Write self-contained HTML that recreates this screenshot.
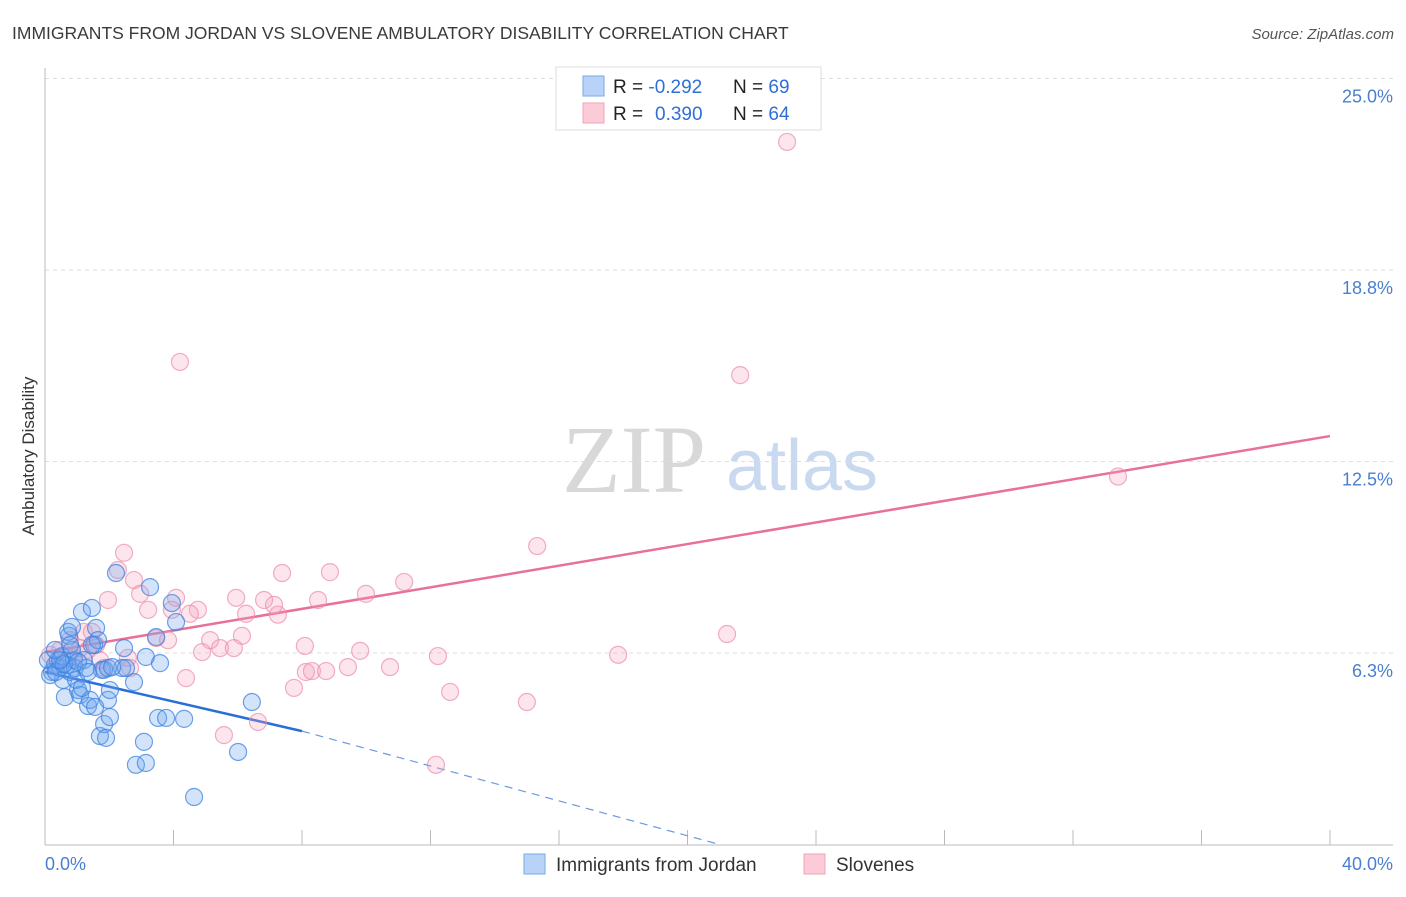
<!DOCTYPE html>
<html><head><meta charset="utf-8"><style>
body{margin:0;background:#fff;font-family:"Liberation Sans",sans-serif}
</style></head><body>
<svg id="chart" width="1406" height="892" xmlns="http://www.w3.org/2000/svg" style="font-family:'Liberation Sans',sans-serif">
<text x="12" y="39" font-size="17.5" fill="#3a3a3a">IMMIGRANTS FROM JORDAN VS SLOVENE AMBULATORY DISABILITY CORRELATION CHART</text>
<text x="1394" y="39" font-size="15" fill="#555" font-style="italic" text-anchor="end">Source: ZipAtlas.com</text>
<text transform="translate(34,456) rotate(-90)" font-size="17" fill="#333" text-anchor="middle">Ambulatory Disability</text>
<g>
<text x="634" y="492" font-size="96" fill="#d8d8d8" font-family="'Liberation Serif',serif" text-anchor="middle">ZIP</text>
<text x="802" y="490" font-size="72" fill="#c9d9f0" text-anchor="middle">atlas</text>
</g>
<g id="grid"></g><g id="axes"></g><g id="trends"></g><g id="pts"></g>
<g>
<rect x="556" y="67" width="265" height="63" fill="#fff" stroke="#ddd"/>
<rect x="583" y="76" width="21" height="20" fill="#b8d3f7" stroke="#7aaae8"/>
<rect x="583" y="103" width="21" height="20" fill="#fbcbd8" stroke="#f0a3bb"/>
<text x="613" y="93" font-size="19" fill="#222">R = <tspan fill="#2f6fd6">-0.292</tspan><tspan x="733">N = </tspan><tspan fill="#2f6fd6">69</tspan></text>
<text x="613" y="120" font-size="19" fill="#222">R = <tspan x="655" fill="#2f6fd6">0.390</tspan><tspan x="733">N = </tspan><tspan fill="#2f6fd6">64</tspan></text>
</g>
<g>
<rect x="524" y="854" width="21" height="20" fill="#b8d3f7" stroke="#7aaae8"/>
<text x="556" y="871" font-size="19" fill="#333">Immigrants from Jordan</text>
<rect x="804" y="854" width="21" height="20" fill="#fbcbd8" stroke="#f0a3bb"/>
<text x="836" y="871" font-size="19" fill="#333">Slovenes</text>
</g>
</svg>
<script>
const xTicks=[0,4,8,12,16,20,24,28,32,36,40];
const yTicks=[6.25,12.5,18.75,25];
const yTickLabels=["6.3%","12.5%","18.8%","25.0%"];
const xTickLabels=["0.0%","40.0%"];
const jordanX=[0.22,0.31,0.40,0.47,0.53,0.56,0.62,0.68,0.75,0.78,0.84,0.90,0.93,0.97,1.03,1.09,1.15,1.21,1.28,1.34,1.40,1.46,1.53,1.59,1.65,1.71,1.77,1.84,1.90,1.96,2.02,2.02,2.21,2.40,2.46,2.52,2.77,2.83,3.08,3.14,3.14,3.27,3.46,3.52,3.58,3.77,3.95,4.08,4.33,4.64,6.01,6.44,0.09,0.16,0.34,0.59,0.72,1.03,0.84,1.34,1.46,1.15,1.84,1.96,2.09,0.47,0.78,0.31,1.56];
const jordanY=[5.63,5.86,6.02,5.76,6.15,5.37,4.81,5.86,6.81,5.63,6.35,6.02,5.76,5.37,5.04,4.88,7.59,6.02,5.76,4.52,4.72,7.72,6.51,7.07,6.67,3.54,5.70,3.93,3.48,4.72,5.04,4.16,8.86,5.76,6.41,5.76,5.30,2.60,3.35,2.66,6.12,8.40,6.77,4.13,5.92,4.13,7.88,7.26,4.10,1.55,3.02,4.65,6.02,5.53,5.63,5.89,6.94,5.96,7.10,5.63,6.51,5.11,5.70,5.76,5.79,6.02,6.51,6.35,4.49];
const sloveneX=[23.10,4.20,21.64,33.40,15.32,2.46,2.27,2.77,7.38,8.87,11.18,1.96,2.96,3.21,4.08,3.95,4.76,4.51,5.95,6.82,6.26,7.13,7.25,8.50,9.99,3.46,3.83,5.14,6.13,4.89,5.45,5.88,8.09,9.81,8.12,8.31,8.75,9.43,10.74,12.23,17.84,21.23,7.75,12.61,15.00,4.39,6.63,5.57,12.17,0.47,0.78,1.09,1.34,1.59,1.71,1.84,2.58,2.65,0.65,1.21,1.46,0.16,0.34,0.9];
const sloveneY=[22.93,15.75,15.32,12.01,9.74,9.52,8.96,8.63,8.86,8.89,8.57,7.98,8.18,7.66,8.05,7.66,7.66,7.53,8.05,7.98,7.53,7.82,7.50,7.98,8.18,6.74,6.67,6.67,6.81,6.28,6.41,6.41,6.48,6.32,5.63,5.66,5.66,5.79,5.79,6.15,6.19,6.87,5.11,4.98,4.65,5.43,4.00,3.57,2.60,6.35,6.67,6.41,6.35,6.51,6.02,5.76,6.09,5.76,6.02,6.94,6.94,6.19,5.86,6.1];
const jordanTrend=[[0,5.63],[8,3.70]];
const jordanTrendExt=[[8,3.70],[21.0,0]];
const sloveneTrend=[[0,6.28],[40,13.33]];

const X=v=>45+v/40*1285;
const Y=v=>844.5-v/6.25*191.5;
const NS="http://www.w3.org/2000/svg";
function mk(tag,attrs,parent){const e=document.createElementNS(NS,tag);for(const k in attrs)e.setAttribute(k,attrs[k]);document.getElementById(parent).appendChild(e);return e;}
yTicks.forEach((t,i)=>{
  const l=mk('line',{x1:45,x2:1393,y1:Y(t),y2:Y(t),stroke:'#ddd','stroke-dasharray':'4,4'},'grid');
  
  
  const tx=mk('text',{x:1393,y:Y(t)+24,'font-size':18,fill:'#4a7fd0','text-anchor':'end'},'grid');
  tx.textContent=yTickLabels[i];
  
  
});
const ax=mk('line',{x1:45,x2:45,y1:68,y2:845,stroke:'#bbb'},'axes');


const bx=mk('line',{x1:45,x2:1393,y1:845,y2:845,stroke:'#bbb'},'axes');


xTicks.forEach(t=>{
  const l=mk('line',{x1:X(t),x2:X(t),y1:830,y2:845,stroke:'#bbb'},'axes');
  
  
});
[[0,'start',45],[40,'end',1393]].forEach((d,i)=>{
  const tx=mk('text',{x:d[2],y:870,'font-size':18,fill:'#4a7fd0','text-anchor':d[1]},'axes');
  tx.textContent=xTickLabels[i];
  
  
});
function pts(xs,ys,fill,stroke,name){
  xs.forEach((x,i)=>{
    const c=mk('circle',{cx:X(x),cy:Y(ys[i]),r:8.5,fill:fill,stroke:stroke,'stroke-width':1.2},'pts');
    
    
  });
}
pts(sloveneX,sloveneY,'rgba(244,160,188,0.28)','rgba(236,140,170,0.7)','slovene-point');
pts(jordanX,jordanY,'rgba(110,165,240,0.3)','rgba(60,130,225,0.75)','jordan-point');
function line(p,stroke,w,dash,name){
  const l=mk('line',{x1:X(p[0][0]),y1:Y(p[0][1]),x2:X(p[1][0]),y2:Y(p[1][1]),stroke:stroke,'stroke-width':w},'trends');
  if(dash)l.setAttribute('stroke-dasharray',dash);
  
  
}
line(sloveneTrend,'#e8709a',2.5,null,'slovene-trend-line');
line(jordanTrend,'#2a6fd8',2.5,null,'jordan-trend-line');
line(jordanTrendExt,'#6a9ae0',1.2,'8,6','jordan-trend-extension');
</script>
</body></html>
